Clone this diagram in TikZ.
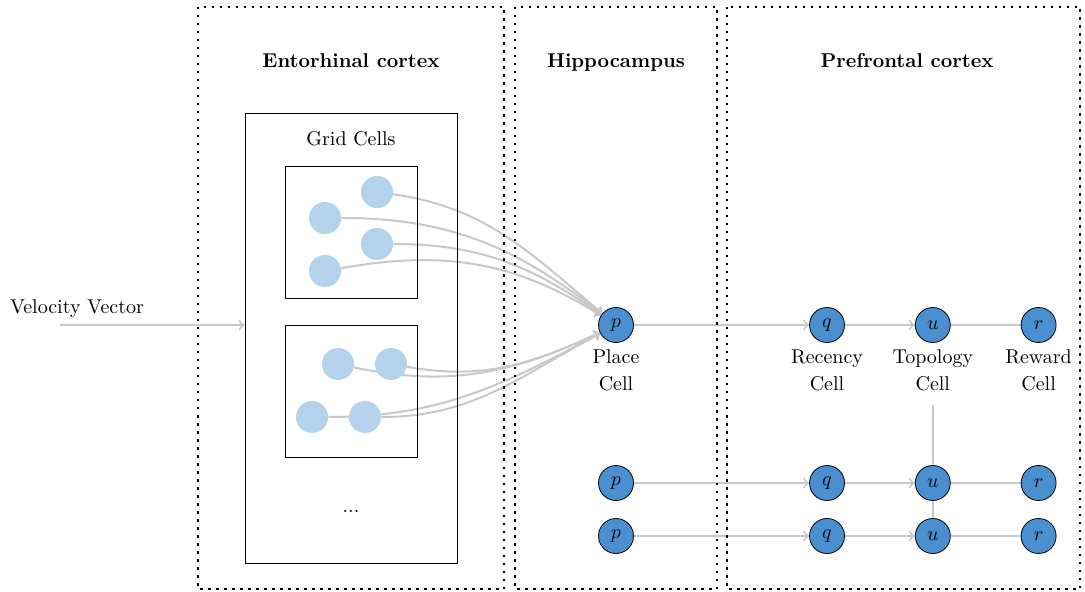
\documentclass[tikz,border=0pt]{standalone}
\usepackage{tikz}
\usetikzlibrary{shapes,arrows,positioning,backgrounds}

\definecolor{cellblue}{RGB}{74,144,208}
\definecolor{gridblue}{RGB}{180,210,235}
\definecolor{linkgray}{RGB}{200,200,200}

\begin{document}
\begin{tikzpicture}[x=0.5pt,y=-0.5pt,>=to,node distance=35pt,
	main node/.style={draw, circle, fill=cellblue, minimum size=17.5pt, inner sep=0pt},
	grid node/.style={circle, fill=gridblue, minimum size=16pt, inner sep=0pt},
	grid box/.style={draw, minimum width=66pt, minimum height=66pt},
	region/.style={line width=1.25pt, dash pattern=on 1.25pt off 2.75pt},
	title/.style={font=\bfseries, anchor=base},
	link/.style={draw=linkgray, line width=1pt, ->},
	plain link/.style={draw=linkgray, line width=1pt}]
			\useasboundingbox (0,0) rectangle (1085,592);
			
			% brain regions
			\draw[region] (198,7) rectangle (504,589);
			\draw[region] (515,7) rectangle (717,589);
			\draw[region] (727,7) rectangle (1080,589);
			\node[title] (ec) at (351,68) {Entorhinal cortex};
			\node[title] (hc) at (616,68) {Hippocampus};
			\node[title] (pfc) at (907,68) {Prefrontal cortex};
			
			% grid cells
			\node[draw, minimum width=106pt, minimum height=225pt] (grid) at (351,338) {};
			\node[anchor=base] (gridlabel) at (351,146) {Grid Cells};
			\node[grid box] (box1) at (351,232) {};
			\node[grid box] (box2) at (351,391) {};
			\node[anchor=base] (dots) at (351,512) {...};
			
			\node[grid node] (g1) at (377,192) {};
			\node[grid node] (g2) at (325,218) {};
			\node[grid node] (g3) at (377,244) {};
			\node[grid node] (g4) at (325,271) {};
			\node[grid node] (g5) at (338,364) {};
			\node[grid node] (g6) at (391,364) {};
			\node[grid node] (g7) at (312,417) {};
			\node[grid node] (g8) at (365,417) {};
			
			\node[anchor=base] (vel) at (77,314) {Velocity Vector};
			\coordinate (v) at (60,325);
			
			% place, recency, topology and reward cells
			\node[main node] (p1) at (616,325) {$p$};
			\node[main node] (q1) at (827,325) {$q$};
			\node[main node] (u1) [right=of q1] {$u$};
			\node[main node] (r1) [right=of u1] {$r$};
			
			\node[align=center, below=0pt of p1] (pl) {Place\\[1.5pt]Cell};
			\node[align=center, below=0pt of q1] (ql) {Recency\\[1.5pt]Cell};
			\node[align=center, below=0pt of u1] (ul) {Topology\\[1.5pt]Cell};
			\node[align=center, below=0pt of r1] (rl) {Reward\\[1.5pt]Cell};
			
			\node[main node] (p2) at (616,483) {$p$};
			\node[main node] (q2) at (827,483) {$q$};
			\node[main node] (u2) [right=of q2] {$u$};
			\node[main node] (r2) [right=of u2] {$r$};
			
			\node[main node] (p3) at (616,536) {$p$};
			\node[main node] (q3) at (827,536) {$q$};
			\node[main node] (u3) [right=of q3] {$u$};
			\node[main node] (r3) [right=of u3] {$r$};
			\coordinate (ulow) at (933,405);
			
			\begin{pgfonlayer}{background}
			\draw[link] (v) -- (v -| grid.west);
			
			\path[every edge/.style=link]
			(g1) edge [out=-8,in=140] (p1)
			(g2) edge [out=0,in=142] (p1)
			(g3) edge [out=0,in=145] (p1)
			(g4) edge [out=10,in=148] (p1)
			(g5) edge [out=-12,in=205] (p1)
			(g6) edge [out=-10,in=205] (p1)
			(g7) edge [out=0,in=208] (p1)
			(g8) edge [out=0,in=208] (p1)
			
			(p1) edge (q1)
			(q1) edge (u1)
			(p2) edge (q2)
			(q2) edge (u2)
			(p3) edge (q3)
			(q3) edge (u3);
			
			\draw[plain link] (u1) -- (r1);
			\draw[plain link] (u2) -- (r2);
			\draw[plain link] (u3) -- (r3);
			\draw[plain link] (ulow) -- (u2);
			\draw[plain link] (u2) -- (u3);
			\end{pgfonlayer}
			
\end{tikzpicture}
\end{document}
